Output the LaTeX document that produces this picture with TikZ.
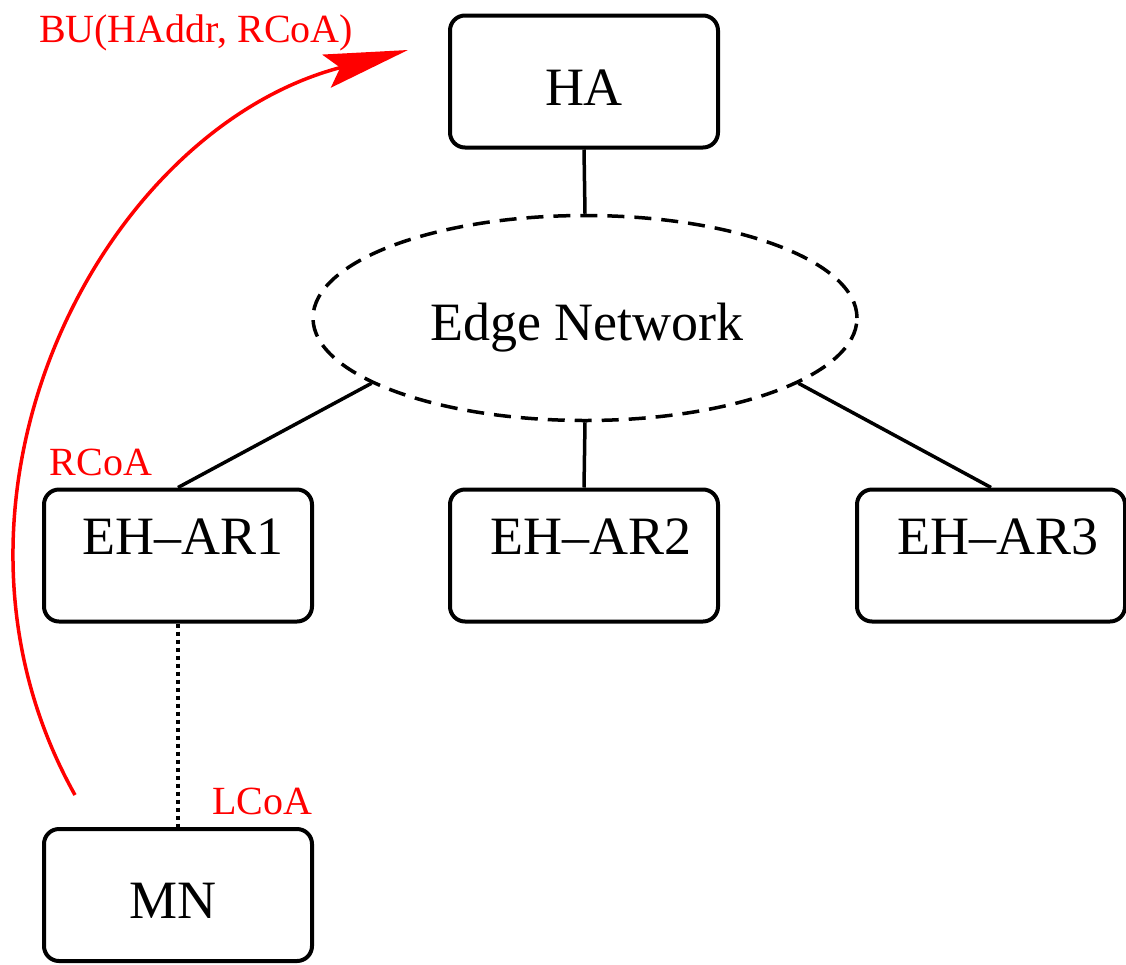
\documentclass[tikz,border=0pt]{standalone}
\usepackage{fontspec}
\setmainfont{Liberation Serif}
\usetikzlibrary{shapes.geometric,arrows.meta}
\begin{document}
\begin{tikzpicture}[x=1pt,y=-1pt,
  box/.style={draw=black,line width=4pt,rounded corners=15pt,minimum width=268pt,minimum height=132pt,inner sep=0pt},
  lbl/.style={font=\fontsize{54}{60}\selectfont,anchor=base,inner sep=0pt},
  rlbl/.style={font=\fontsize{40}{46}\selectfont,text=red,anchor=base,inner sep=0pt},
  conn/.style={line width=3.5pt,draw=black},
  dotconn/.style={line width=4pt,draw=black,dash pattern=on 4pt off 4pt},
  net/.style={draw=black,line width=3.5pt,dash pattern=on 17pt off 10pt,ellipse,minimum width=544pt,minimum height=205pt,inner sep=0pt}
]
\useasboundingbox (0,0) rectangle (1126,964);
% boxes
\node[box] (ha) at (584,81.5) {};
\node[box] (ar1) at (178,555.5) {};
\node[box] (ar2) at (584,555.5) {};
\node[box] (ar3) at (991,555.5) {};
\node[box] (mn) at (178,895) {};
\node[net] (en) at (585,318) {};
% texts
\node[lbl] (hat) at (584,105) {HA};
\node[lbl] (ar1t) at (183,554) {EH–AR1};
\node[lbl] (ar2t) at (591,554) {EH–AR2};
\node[lbl] (ar3t) at (998,554) {EH–AR3};
\node[lbl] (mnt) at (173,918) {MN};
\node[lbl] (ent) at (587,340) {Edge Network};
\node[rlbl] (bu) at (196,42) {BU(HAddr, RCoA)};
\node[rlbl] (rcoa) at (101,475) {RCoA};
\node[rlbl] (lcoa) at (262,814) {LCoA};
% connectors
\draw[conn] (ha.south) -- (en.north);
\draw[conn] (ar2.north) -- (en.south);
\draw[conn] (ar1.north) -- (en.197);
\draw[conn] (ar3.north) -- (en.-17.6);
\draw[dotconn] (ar1.south) -- (mn.north);
% red arc
\coordinate (s) at (75,795);
\coordinate (t) at (408,50);
\draw[red,line width=3.5pt,-{Stealth[length=84pt,width=34pt,inset=14pt]}] (s) .. controls (-90,500) and (100,130) .. (t);
\end{tikzpicture}
\end{document}
